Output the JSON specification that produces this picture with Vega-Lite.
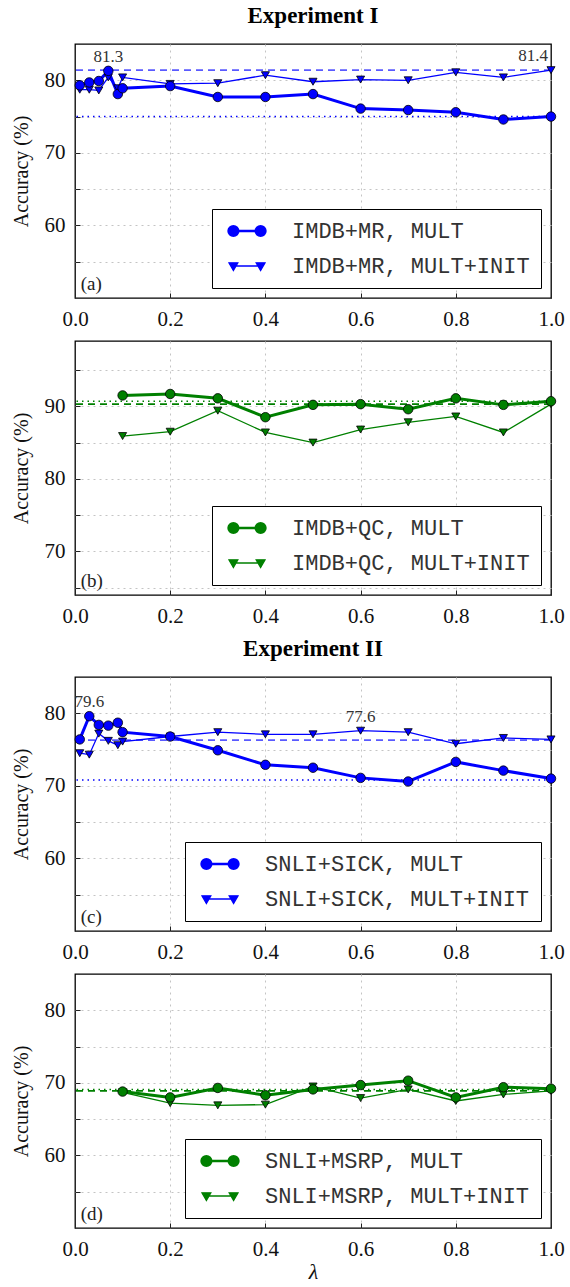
{
  "$schema": "https://vega.github.io/schema/vega-lite/v6.json",
  "padding": {"left": 10, "right": 20, "top": 4, "bottom": 3},
  "spacing": 10,
  "config": {
    "font": "Liberation Serif",
    "view": {"stroke": "black", "strokeWidth": 1.3},
    "axis": {"labelFont": "Liberation Serif", "labelFontSize": 21, "labelColor": "#111", "labelFlush": false, "ticks": true, "tickSize": -5, "tickColor": "#222", "tickWidth": 1, "domain": false, "grid": true, "gridDash": [2, 4], "gridColor": "#c4c4c4", "gridWidth": 1, "titleFont": "Liberation Serif", "titleFontWeight": "normal", "titleFontSize": 20, "titleColor": "#111", "labelPadding": 15},
    "axisX": {"gridOpacity": {"condition": {"test": "datum.value == 0 || datum.value == 1", "value": 0}, "value": 1}},
    "legend": {"title": null, "orient": "bottom-right", "offset": 10, "strokeColor": "black", "fillColor": "white", "padding": 11, "labelFont": "Liberation Mono", "labelFontSize": 22, "labelColor": "#333", "labelLimit": 400, "rowPadding": 13, "symbolSize": 64, "symbolOffset": 13, "labelOffset": 34},
    "title": {"font": "Liberation Serif", "fontSize": 23, "fontWeight": "bold", "color": "black", "anchor": "middle", "frame": "group", "offset": 16}
  },
  "resolve": {"scale": {"fill": "independent", "stroke": "independent", "shape": "independent", "strokeWidth": "independent", "y": "independent", "x": "independent"}, "legend": {"fill": "independent", "stroke": "independent", "shape": "independent", "strokeWidth": "independent"}},
  "datasets": {
    "acc": [
      {"panel": "a", "method": "MULT", "series": "IMDB+MR, MULT", "lambda": 0.01, "acc": 79.3},
      {"panel": "a", "method": "MULT", "series": "IMDB+MR, MULT", "lambda": 0.03, "acc": 79.7},
      {"panel": "a", "method": "MULT", "series": "IMDB+MR, MULT", "lambda": 0.05, "acc": 79.9},
      {"panel": "a", "method": "MULT", "series": "IMDB+MR, MULT", "lambda": 0.07, "acc": 81.3},
      {"panel": "a", "method": "MULT", "series": "IMDB+MR, MULT", "lambda": 0.09, "acc": 78.1},
      {"panel": "a", "method": "MULT", "series": "IMDB+MR, MULT", "lambda": 0.1, "acc": 78.9},
      {"panel": "a", "method": "MULT", "series": "IMDB+MR, MULT", "lambda": 0.2, "acc": 79.2},
      {"panel": "a", "method": "MULT", "series": "IMDB+MR, MULT", "lambda": 0.3, "acc": 77.7},
      {"panel": "a", "method": "MULT", "series": "IMDB+MR, MULT", "lambda": 0.4, "acc": 77.7},
      {"panel": "a", "method": "MULT", "series": "IMDB+MR, MULT", "lambda": 0.5, "acc": 78.1},
      {"panel": "a", "method": "MULT", "series": "IMDB+MR, MULT", "lambda": 0.6, "acc": 76.1},
      {"panel": "a", "method": "MULT", "series": "IMDB+MR, MULT", "lambda": 0.7, "acc": 75.9},
      {"panel": "a", "method": "MULT", "series": "IMDB+MR, MULT", "lambda": 0.8, "acc": 75.6},
      {"panel": "a", "method": "MULT", "series": "IMDB+MR, MULT", "lambda": 0.9, "acc": 74.6},
      {"panel": "a", "method": "MULT", "series": "IMDB+MR, MULT", "lambda": 1.0, "acc": 75.0},
      {"panel": "a", "method": "MULT+INIT", "series": "IMDB+MR, MULT+INIT", "lambda": 0.01, "acc": 78.7},
      {"panel": "a", "method": "MULT+INIT", "series": "IMDB+MR, MULT+INIT", "lambda": 0.03, "acc": 78.7},
      {"panel": "a", "method": "MULT+INIT", "series": "IMDB+MR, MULT+INIT", "lambda": 0.05, "acc": 78.6},
      {"panel": "a", "method": "MULT+INIT", "series": "IMDB+MR, MULT+INIT", "lambda": 0.07, "acc": 80.4},
      {"panel": "a", "method": "MULT+INIT", "series": "IMDB+MR, MULT+INIT", "lambda": 0.09, "acc": 78.9},
      {"panel": "a", "method": "MULT+INIT", "series": "IMDB+MR, MULT+INIT", "lambda": 0.1, "acc": 80.4},
      {"panel": "a", "method": "MULT+INIT", "series": "IMDB+MR, MULT+INIT", "lambda": 0.2, "acc": 79.5},
      {"panel": "a", "method": "MULT+INIT", "series": "IMDB+MR, MULT+INIT", "lambda": 0.3, "acc": 79.6},
      {"panel": "a", "method": "MULT+INIT", "series": "IMDB+MR, MULT+INIT", "lambda": 0.4, "acc": 80.7},
      {"panel": "a", "method": "MULT+INIT", "series": "IMDB+MR, MULT+INIT", "lambda": 0.5, "acc": 79.8},
      {"panel": "a", "method": "MULT+INIT", "series": "IMDB+MR, MULT+INIT", "lambda": 0.6, "acc": 80.1},
      {"panel": "a", "method": "MULT+INIT", "series": "IMDB+MR, MULT+INIT", "lambda": 0.7, "acc": 80.0},
      {"panel": "a", "method": "MULT+INIT", "series": "IMDB+MR, MULT+INIT", "lambda": 0.8, "acc": 81.1},
      {"panel": "a", "method": "MULT+INIT", "series": "IMDB+MR, MULT+INIT", "lambda": 0.9, "acc": 80.4},
      {"panel": "a", "method": "MULT+INIT", "series": "IMDB+MR, MULT+INIT", "lambda": 1.0, "acc": 81.4},
      {"panel": "b", "method": "MULT", "series": "IMDB+QC, MULT", "lambda": 0.1, "acc": 91.5},
      {"panel": "b", "method": "MULT", "series": "IMDB+QC, MULT", "lambda": 0.2, "acc": 91.7},
      {"panel": "b", "method": "MULT", "series": "IMDB+QC, MULT", "lambda": 0.3, "acc": 91.1},
      {"panel": "b", "method": "MULT", "series": "IMDB+QC, MULT", "lambda": 0.4, "acc": 88.5},
      {"panel": "b", "method": "MULT", "series": "IMDB+QC, MULT", "lambda": 0.5, "acc": 90.2},
      {"panel": "b", "method": "MULT", "series": "IMDB+QC, MULT", "lambda": 0.6, "acc": 90.3},
      {"panel": "b", "method": "MULT", "series": "IMDB+QC, MULT", "lambda": 0.7, "acc": 89.6},
      {"panel": "b", "method": "MULT", "series": "IMDB+QC, MULT", "lambda": 0.8, "acc": 91.1},
      {"panel": "b", "method": "MULT", "series": "IMDB+QC, MULT", "lambda": 0.9, "acc": 90.2},
      {"panel": "b", "method": "MULT", "series": "IMDB+QC, MULT", "lambda": 1.0, "acc": 90.7},
      {"panel": "b", "method": "MULT+INIT", "series": "IMDB+QC, MULT+INIT", "lambda": 0.1, "acc": 85.9},
      {"panel": "b", "method": "MULT+INIT", "series": "IMDB+QC, MULT+INIT", "lambda": 0.2, "acc": 86.5},
      {"panel": "b", "method": "MULT+INIT", "series": "IMDB+QC, MULT+INIT", "lambda": 0.3, "acc": 89.4},
      {"panel": "b", "method": "MULT+INIT", "series": "IMDB+QC, MULT+INIT", "lambda": 0.4, "acc": 86.4},
      {"panel": "b", "method": "MULT+INIT", "series": "IMDB+QC, MULT+INIT", "lambda": 0.5, "acc": 85.0},
      {"panel": "b", "method": "MULT+INIT", "series": "IMDB+QC, MULT+INIT", "lambda": 0.6, "acc": 86.8},
      {"panel": "b", "method": "MULT+INIT", "series": "IMDB+QC, MULT+INIT", "lambda": 0.7, "acc": 87.8},
      {"panel": "b", "method": "MULT+INIT", "series": "IMDB+QC, MULT+INIT", "lambda": 0.8, "acc": 88.6},
      {"panel": "b", "method": "MULT+INIT", "series": "IMDB+QC, MULT+INIT", "lambda": 0.9, "acc": 86.4},
      {"panel": "b", "method": "MULT+INIT", "series": "IMDB+QC, MULT+INIT", "lambda": 1.0, "acc": 90.3},
      {"panel": "c", "method": "MULT", "series": "SNLI+SICK, MULT", "lambda": 0.01, "acc": 76.4},
      {"panel": "c", "method": "MULT", "series": "SNLI+SICK, MULT", "lambda": 0.03, "acc": 79.6},
      {"panel": "c", "method": "MULT", "series": "SNLI+SICK, MULT", "lambda": 0.05, "acc": 78.4},
      {"panel": "c", "method": "MULT", "series": "SNLI+SICK, MULT", "lambda": 0.07, "acc": 78.3},
      {"panel": "c", "method": "MULT", "series": "SNLI+SICK, MULT", "lambda": 0.09, "acc": 78.7},
      {"panel": "c", "method": "MULT", "series": "SNLI+SICK, MULT", "lambda": 0.1, "acc": 77.4},
      {"panel": "c", "method": "MULT", "series": "SNLI+SICK, MULT", "lambda": 0.2, "acc": 76.8},
      {"panel": "c", "method": "MULT", "series": "SNLI+SICK, MULT", "lambda": 0.3, "acc": 74.9},
      {"panel": "c", "method": "MULT", "series": "SNLI+SICK, MULT", "lambda": 0.4, "acc": 72.9},
      {"panel": "c", "method": "MULT", "series": "SNLI+SICK, MULT", "lambda": 0.5, "acc": 72.5},
      {"panel": "c", "method": "MULT", "series": "SNLI+SICK, MULT", "lambda": 0.6, "acc": 71.1},
      {"panel": "c", "method": "MULT", "series": "SNLI+SICK, MULT", "lambda": 0.7, "acc": 70.6},
      {"panel": "c", "method": "MULT", "series": "SNLI+SICK, MULT", "lambda": 0.8, "acc": 73.3},
      {"panel": "c", "method": "MULT", "series": "SNLI+SICK, MULT", "lambda": 0.9, "acc": 72.1},
      {"panel": "c", "method": "MULT", "series": "SNLI+SICK, MULT", "lambda": 1.0, "acc": 71.0},
      {"panel": "c", "method": "MULT+INIT", "series": "SNLI+SICK, MULT+INIT", "lambda": 0.01, "acc": 74.5},
      {"panel": "c", "method": "MULT+INIT", "series": "SNLI+SICK, MULT+INIT", "lambda": 0.03, "acc": 74.3},
      {"panel": "c", "method": "MULT+INIT", "series": "SNLI+SICK, MULT+INIT", "lambda": 0.05, "acc": 77.2},
      {"panel": "c", "method": "MULT+INIT", "series": "SNLI+SICK, MULT+INIT", "lambda": 0.07, "acc": 76.2},
      {"panel": "c", "method": "MULT+INIT", "series": "SNLI+SICK, MULT+INIT", "lambda": 0.09, "acc": 75.6},
      {"panel": "c", "method": "MULT+INIT", "series": "SNLI+SICK, MULT+INIT", "lambda": 0.1, "acc": 76.1},
      {"panel": "c", "method": "MULT+INIT", "series": "SNLI+SICK, MULT+INIT", "lambda": 0.2, "acc": 76.8},
      {"panel": "c", "method": "MULT+INIT", "series": "SNLI+SICK, MULT+INIT", "lambda": 0.3, "acc": 77.4},
      {"panel": "c", "method": "MULT+INIT", "series": "SNLI+SICK, MULT+INIT", "lambda": 0.4, "acc": 77.1},
      {"panel": "c", "method": "MULT+INIT", "series": "SNLI+SICK, MULT+INIT", "lambda": 0.5, "acc": 77.1},
      {"panel": "c", "method": "MULT+INIT", "series": "SNLI+SICK, MULT+INIT", "lambda": 0.6, "acc": 77.6},
      {"panel": "c", "method": "MULT+INIT", "series": "SNLI+SICK, MULT+INIT", "lambda": 0.7, "acc": 77.4},
      {"panel": "c", "method": "MULT+INIT", "series": "SNLI+SICK, MULT+INIT", "lambda": 0.8, "acc": 75.8},
      {"panel": "c", "method": "MULT+INIT", "series": "SNLI+SICK, MULT+INIT", "lambda": 0.9, "acc": 76.6},
      {"panel": "c", "method": "MULT+INIT", "series": "SNLI+SICK, MULT+INIT", "lambda": 1.0, "acc": 76.4},
      {"panel": "d", "method": "MULT", "series": "SNLI+MSRP, MULT", "lambda": 0.1, "acc": 68.8},
      {"panel": "d", "method": "MULT", "series": "SNLI+MSRP, MULT", "lambda": 0.2, "acc": 68.0},
      {"panel": "d", "method": "MULT", "series": "SNLI+MSRP, MULT", "lambda": 0.3, "acc": 69.3},
      {"panel": "d", "method": "MULT", "series": "SNLI+MSRP, MULT", "lambda": 0.4, "acc": 68.3},
      {"panel": "d", "method": "MULT", "series": "SNLI+MSRP, MULT", "lambda": 0.5, "acc": 69.1},
      {"panel": "d", "method": "MULT", "series": "SNLI+MSRP, MULT", "lambda": 0.6, "acc": 69.7},
      {"panel": "d", "method": "MULT", "series": "SNLI+MSRP, MULT", "lambda": 0.7, "acc": 70.3},
      {"panel": "d", "method": "MULT", "series": "SNLI+MSRP, MULT", "lambda": 0.8, "acc": 68.0},
      {"panel": "d", "method": "MULT", "series": "SNLI+MSRP, MULT", "lambda": 0.9, "acc": 69.4},
      {"panel": "d", "method": "MULT", "series": "SNLI+MSRP, MULT", "lambda": 1.0, "acc": 69.2},
      {"panel": "d", "method": "MULT+INIT", "series": "SNLI+MSRP, MULT+INIT", "lambda": 0.1, "acc": 68.7},
      {"panel": "d", "method": "MULT+INIT", "series": "SNLI+MSRP, MULT+INIT", "lambda": 0.2, "acc": 67.2},
      {"panel": "d", "method": "MULT+INIT", "series": "SNLI+MSRP, MULT+INIT", "lambda": 0.3, "acc": 66.9},
      {"panel": "d", "method": "MULT+INIT", "series": "SNLI+MSRP, MULT+INIT", "lambda": 0.4, "acc": 67.0},
      {"panel": "d", "method": "MULT+INIT", "series": "SNLI+MSRP, MULT+INIT", "lambda": 0.5, "acc": 69.5},
      {"panel": "d", "method": "MULT+INIT", "series": "SNLI+MSRP, MULT+INIT", "lambda": 0.6, "acc": 67.9},
      {"panel": "d", "method": "MULT+INIT", "series": "SNLI+MSRP, MULT+INIT", "lambda": 0.7, "acc": 69.1},
      {"panel": "d", "method": "MULT+INIT", "series": "SNLI+MSRP, MULT+INIT", "lambda": 0.8, "acc": 67.5},
      {"panel": "d", "method": "MULT+INIT", "series": "SNLI+MSRP, MULT+INIT", "lambda": 0.9, "acc": 68.4},
      {"panel": "d", "method": "MULT+INIT", "series": "SNLI+MSRP, MULT+INIT", "lambda": 1.0, "acc": 68.9}
    ],
    "refs": [
      {"panel": "a", "ref": "r1", "acc": 81.4},
      {"panel": "a", "ref": "r2", "acc": 75.0},
      {"panel": "b", "ref": "r1", "acc": 90.3},
      {"panel": "b", "ref": "r2", "acc": 90.7},
      {"panel": "c", "ref": "r1", "acc": 76.3},
      {"panel": "c", "ref": "r2", "acc": 70.8},
      {"panel": "d", "ref": "r1", "acc": 68.9},
      {"panel": "d", "ref": "r2", "acc": 69.1}
    ],
    "notes": [
      {"panel": "a", "side": "mid", "lambda": 0.07, "acc": 81.3, "text": "81.3"},
      {"panel": "a", "side": "end", "lambda": 1.0, "acc": 81.4, "text": "81.4"},
      {"panel": "c", "side": "mid", "lambda": 0.03, "acc": 79.6, "text": "79.6"},
      {"panel": "c", "side": "mid", "lambda": 0.6, "acc": 77.6, "text": "77.6"}
    ]
  },
  "vconcat": [
    {
      "width": 476, "height": 254,
      "title": {"text": "Experiment I"},
      "layer": [
        {"data": {"name": "refs"}, "transform": [{"filter": "datum.panel == 'a' && datum.ref == 'r1'"}], "mark": {"type": "rule", "color": "#5a5aff", "strokeWidth": 1.6, "strokeDash": [7, 5]}, "encoding": {"y": {"field": "acc", "type": "quantitative", "scale": {"domain": [50, 85], "nice": false, "zero": false}}}},
        {"data": {"name": "refs"}, "transform": [{"filter": "datum.panel == 'a' && datum.ref == 'r2'"}], "mark": {"type": "rule", "color": "#0000ff", "strokeWidth": 1.5, "strokeDash": [1.5, 4]}, "encoding": {"y": {"field": "acc", "type": "quantitative"}}},
        {"data": {"name": "acc"}, "transform": [{"filter": "datum.panel == 'a' && datum.method == 'MULT'"}], "mark": {"type": "line", "color": "#0000ff", "strokeWidth": 3}, "encoding": {
          "x": {"field": "lambda", "type": "quantitative", "scale": {"domain": [0, 1], "nice": false}, "axis": {"title": null, "values": [0, 0.2, 0.4, 0.6, 0.8, 1.0], "format": ".1f"}},
          "y": {"field": "acc", "type": "quantitative", "axis": {"title": "Accuracy (%)", "titlePadding": 13, "values": [55, 60, 65, 70, 75, 80], "labelExpr": "datum.value % 10 == 0 ? datum.label : ''"}}}},
        {"data": {"name": "acc"}, "transform": [{"filter": "datum.panel == 'a' && datum.method == 'MULT+INIT'"}], "mark": {"type": "line", "color": "#0000ff", "strokeWidth": 1.3}, "encoding": {"x": {"field": "lambda", "type": "quantitative"}, "y": {"field": "acc", "type": "quantitative"}}},
        {"data": {"name": "acc"}, "transform": [{"filter": "datum.panel == 'a' && datum.method == 'MULT+INIT'"}], "mark": {"type": "point", "shape": "triangle-down", "filled": true, "color": "#0000ff", "stroke": "black", "strokeWidth": 0.8, "size": 65, "opacity": 1}, "encoding": {"x": {"field": "lambda", "type": "quantitative"}, "y": {"field": "acc", "type": "quantitative"}}},
        {"data": {"name": "acc"}, "transform": [{"filter": "datum.panel == 'a' && datum.method == 'MULT'"}], "mark": {"type": "point", "shape": "circle", "filled": true, "color": "#0000ff", "stroke": "black", "strokeWidth": 0.8, "size": 90, "opacity": 1}, "encoding": {"x": {"field": "lambda", "type": "quantitative"}, "y": {"field": "acc", "type": "quantitative"}}},
        {"data": {"name": "acc"}, "transform": [{"filter": "datum.panel == 'a' && datum.lambda < 0"}], "mark": {"type": "point", "size": 64, "opacity": 1}, "encoding": {
          "x": {"field": "lambda", "type": "quantitative"}, "y": {"field": "acc", "type": "quantitative"},
          "fill": {"field": "series", "type": "nominal", "scale": {"domain": ["IMDB+MR, MULT", "IMDB+MR, MULT+INIT"], "range": ["#0000ff", "#0000ff"]}},
          "stroke": {"field": "series", "type": "nominal", "scale": {"domain": ["IMDB+MR, MULT", "IMDB+MR, MULT+INIT"], "range": ["#0000ff", "#0000ff"]}},
          "shape": {"field": "series", "type": "nominal", "scale": {"domain": ["IMDB+MR, MULT", "IMDB+MR, MULT+INIT"], "range": ["M-3.4,0L3.4,0M-4.6,0A1.2,1.2,0,1,0,-2.2,0A1.2,1.2,0,1,0,-4.6,0ZM2.2,0A1.2,1.2,0,1,0,4.6,0A1.2,1.2,0,1,0,2.2,0Z", "M-3.4,0L3.4,0M-4.5,-0.8L-2.3,-0.8L-3.4,1.1ZM2.3,-0.8L4.5,-0.8L3.4,1.1Z"]}},
          "strokeWidth": {"field": "series", "type": "nominal", "scale": {"type": "ordinal", "domain": ["IMDB+MR, MULT", "IMDB+MR, MULT+INIT"], "range": [2.6, 1.3]}}}},
        {"data": {"name": "notes"}, "transform": [{"filter": "datum.panel == 'a' && datum.side == 'mid'"}], "mark": {"type": "text", "dy": -14, "fontSize": 17, "color": "#333"}, "encoding": {"x": {"field": "lambda", "type": "quantitative"}, "y": {"field": "acc", "type": "quantitative"}, "text": {"field": "text"}}},
        {"data": {"name": "notes"}, "transform": [{"filter": "datum.panel == 'a' && datum.side == 'end'"}], "mark": {"type": "text", "dy": -14, "dx": -3, "align": "right", "fontSize": 17, "color": "#333"}, "encoding": {"x": {"field": "lambda", "type": "quantitative"}, "y": {"field": "acc", "type": "quantitative"}, "text": {"field": "text"}}},
        {"data": {"values": [{"tag": "(a)"}]}, "mark": {"type": "text", "align": "left", "baseline": "bottom", "fontSize": 19, "color": "#222"}, "encoding": {"x": {"datum": 0.012}, "y": {"datum": 50.6}, "text": {"field": "tag"}}}
      ]
    },
    {
      "width": 476, "height": 254,
      "layer": [
        {"data": {"name": "refs"}, "transform": [{"filter": "datum.panel == 'b' && datum.ref == 'r1'"}], "mark": {"type": "rule", "color": "#008000", "strokeWidth": 1.6, "strokeDash": [7, 5]}, "encoding": {"y": {"field": "acc", "type": "quantitative", "scale": {"domain": [64, 99], "nice": false, "zero": false}}}},
        {"data": {"name": "refs"}, "transform": [{"filter": "datum.panel == 'b' && datum.ref == 'r2'"}], "mark": {"type": "rule", "color": "#008000", "strokeWidth": 1.5, "strokeDash": [1.5, 4]}, "encoding": {"y": {"field": "acc", "type": "quantitative"}}},
        {"data": {"name": "acc"}, "transform": [{"filter": "datum.panel == 'b' && datum.method == 'MULT'"}], "mark": {"type": "line", "color": "#008000", "strokeWidth": 3}, "encoding": {
          "x": {"field": "lambda", "type": "quantitative", "scale": {"domain": [0, 1], "nice": false}, "axis": {"title": null, "values": [0, 0.2, 0.4, 0.6, 0.8, 1.0], "format": ".1f"}},
          "y": {"field": "acc", "type": "quantitative", "axis": {"title": "Accuracy (%)", "titlePadding": 13, "values": [65, 70, 75, 80, 85, 90, 95], "labelExpr": "datum.value % 10 == 0 ? datum.label : ''"}}}},
        {"data": {"name": "acc"}, "transform": [{"filter": "datum.panel == 'b' && datum.method == 'MULT+INIT'"}], "mark": {"type": "line", "color": "#008000", "strokeWidth": 1.3}, "encoding": {"x": {"field": "lambda", "type": "quantitative"}, "y": {"field": "acc", "type": "quantitative"}}},
        {"data": {"name": "acc"}, "transform": [{"filter": "datum.panel == 'b' && datum.method == 'MULT+INIT'"}], "mark": {"type": "point", "shape": "triangle-down", "filled": true, "color": "#008000", "stroke": "black", "strokeWidth": 0.8, "size": 65, "opacity": 1}, "encoding": {"x": {"field": "lambda", "type": "quantitative"}, "y": {"field": "acc", "type": "quantitative"}}},
        {"data": {"name": "acc"}, "transform": [{"filter": "datum.panel == 'b' && datum.method == 'MULT'"}], "mark": {"type": "point", "shape": "circle", "filled": true, "color": "#008000", "stroke": "black", "strokeWidth": 0.8, "size": 90, "opacity": 1}, "encoding": {"x": {"field": "lambda", "type": "quantitative"}, "y": {"field": "acc", "type": "quantitative"}}},
        {"data": {"name": "acc"}, "transform": [{"filter": "datum.panel == 'b' && datum.lambda < 0"}], "mark": {"type": "point", "size": 64, "opacity": 1}, "encoding": {
          "x": {"field": "lambda", "type": "quantitative"}, "y": {"field": "acc", "type": "quantitative"},
          "fill": {"field": "series", "type": "nominal", "scale": {"domain": ["IMDB+QC, MULT", "IMDB+QC, MULT+INIT"], "range": ["#008000", "#008000"]}},
          "stroke": {"field": "series", "type": "nominal", "scale": {"domain": ["IMDB+QC, MULT", "IMDB+QC, MULT+INIT"], "range": ["#008000", "#008000"]}},
          "shape": {"field": "series", "type": "nominal", "scale": {"domain": ["IMDB+QC, MULT", "IMDB+QC, MULT+INIT"], "range": ["M-3.4,0L3.4,0M-4.6,0A1.2,1.2,0,1,0,-2.2,0A1.2,1.2,0,1,0,-4.6,0ZM2.2,0A1.2,1.2,0,1,0,4.6,0A1.2,1.2,0,1,0,2.2,0Z", "M-3.4,0L3.4,0M-4.5,-0.8L-2.3,-0.8L-3.4,1.1ZM2.3,-0.8L4.5,-0.8L3.4,1.1Z"]}},
          "strokeWidth": {"field": "series", "type": "nominal", "scale": {"type": "ordinal", "domain": ["IMDB+QC, MULT", "IMDB+QC, MULT+INIT"], "range": [2.6, 1.3]}}}},
        {"data": {"values": [{"tag": "(b)"}]}, "mark": {"type": "text", "align": "left", "baseline": "bottom", "fontSize": 19, "color": "#222"}, "encoding": {"x": {"datum": 0.012}, "y": {"datum": 64.6}, "text": {"field": "tag"}}}
      ]
    },
    {
      "width": 476, "height": 254,
      "title": {"text": "Experiment II"},
      "layer": [
        {"data": {"name": "refs"}, "transform": [{"filter": "datum.panel == 'c' && datum.ref == 'r1'"}], "mark": {"type": "rule", "color": "#5a5aff", "strokeWidth": 1.6, "strokeDash": [7, 5]}, "encoding": {"y": {"field": "acc", "type": "quantitative", "scale": {"domain": [50, 85], "nice": false, "zero": false}}}},
        {"data": {"name": "refs"}, "transform": [{"filter": "datum.panel == 'c' && datum.ref == 'r2'"}], "mark": {"type": "rule", "color": "#0000ff", "strokeWidth": 1.5, "strokeDash": [1.5, 4]}, "encoding": {"y": {"field": "acc", "type": "quantitative"}}},
        {"data": {"name": "acc"}, "transform": [{"filter": "datum.panel == 'c' && datum.method == 'MULT'"}], "mark": {"type": "line", "color": "#0000ff", "strokeWidth": 3}, "encoding": {
          "x": {"field": "lambda", "type": "quantitative", "scale": {"domain": [0, 1], "nice": false}, "axis": {"title": null, "values": [0, 0.2, 0.4, 0.6, 0.8, 1.0], "format": ".1f"}},
          "y": {"field": "acc", "type": "quantitative", "axis": {"title": "Accuracy (%)", "titlePadding": 13, "values": [55, 60, 65, 70, 75, 80], "labelExpr": "datum.value % 10 == 0 ? datum.label : ''"}}}},
        {"data": {"name": "acc"}, "transform": [{"filter": "datum.panel == 'c' && datum.method == 'MULT+INIT'"}], "mark": {"type": "line", "color": "#0000ff", "strokeWidth": 1.3}, "encoding": {"x": {"field": "lambda", "type": "quantitative"}, "y": {"field": "acc", "type": "quantitative"}}},
        {"data": {"name": "acc"}, "transform": [{"filter": "datum.panel == 'c' && datum.method == 'MULT+INIT'"}], "mark": {"type": "point", "shape": "triangle-down", "filled": true, "color": "#0000ff", "stroke": "black", "strokeWidth": 0.8, "size": 65, "opacity": 1}, "encoding": {"x": {"field": "lambda", "type": "quantitative"}, "y": {"field": "acc", "type": "quantitative"}}},
        {"data": {"name": "acc"}, "transform": [{"filter": "datum.panel == 'c' && datum.method == 'MULT'"}], "mark": {"type": "point", "shape": "circle", "filled": true, "color": "#0000ff", "stroke": "black", "strokeWidth": 0.8, "size": 90, "opacity": 1}, "encoding": {"x": {"field": "lambda", "type": "quantitative"}, "y": {"field": "acc", "type": "quantitative"}}},
        {"data": {"name": "acc"}, "transform": [{"filter": "datum.panel == 'c' && datum.lambda < 0"}], "mark": {"type": "point", "size": 64, "opacity": 1}, "encoding": {
          "x": {"field": "lambda", "type": "quantitative"}, "y": {"field": "acc", "type": "quantitative"},
          "fill": {"field": "series", "type": "nominal", "scale": {"domain": ["SNLI+SICK, MULT", "SNLI+SICK, MULT+INIT"], "range": ["#0000ff", "#0000ff"]}},
          "stroke": {"field": "series", "type": "nominal", "scale": {"domain": ["SNLI+SICK, MULT", "SNLI+SICK, MULT+INIT"], "range": ["#0000ff", "#0000ff"]}},
          "shape": {"field": "series", "type": "nominal", "scale": {"domain": ["SNLI+SICK, MULT", "SNLI+SICK, MULT+INIT"], "range": ["M-3.4,0L3.4,0M-4.6,0A1.2,1.2,0,1,0,-2.2,0A1.2,1.2,0,1,0,-4.6,0ZM2.2,0A1.2,1.2,0,1,0,4.6,0A1.2,1.2,0,1,0,2.2,0Z", "M-3.4,0L3.4,0M-4.5,-0.8L-2.3,-0.8L-3.4,1.1ZM2.3,-0.8L4.5,-0.8L3.4,1.1Z"]}},
          "strokeWidth": {"field": "series", "type": "nominal", "scale": {"type": "ordinal", "domain": ["SNLI+SICK, MULT", "SNLI+SICK, MULT+INIT"], "range": [2.6, 1.3]}}}},
        {"data": {"name": "notes"}, "transform": [{"filter": "datum.panel == 'c'"}], "mark": {"type": "text", "dy": -14, "fontSize": 17, "color": "#333"}, "encoding": {"x": {"field": "lambda", "type": "quantitative"}, "y": {"field": "acc", "type": "quantitative"}, "text": {"field": "text"}}},
        {"data": {"values": [{"tag": "(c)"}]}, "mark": {"type": "text", "align": "left", "baseline": "bottom", "fontSize": 19, "color": "#222"}, "encoding": {"x": {"datum": 0.012}, "y": {"datum": 50.6}, "text": {"field": "tag"}}}
      ]
    },
    {
      "width": 476, "height": 254,
      "layer": [
        {"data": {"name": "refs"}, "transform": [{"filter": "datum.panel == 'd' && datum.ref == 'r1'"}], "mark": {"type": "rule", "color": "#008000", "strokeWidth": 1.6, "strokeDash": [7, 5]}, "encoding": {"y": {"field": "acc", "type": "quantitative", "scale": {"domain": [50, 85], "nice": false, "zero": false}}}},
        {"data": {"name": "refs"}, "transform": [{"filter": "datum.panel == 'd' && datum.ref == 'r2'"}], "mark": {"type": "rule", "color": "#008000", "strokeWidth": 1.5, "strokeDash": [1.5, 4]}, "encoding": {"y": {"field": "acc", "type": "quantitative"}}},
        {"data": {"name": "acc"}, "transform": [{"filter": "datum.panel == 'd' && datum.method == 'MULT'"}], "mark": {"type": "line", "color": "#008000", "strokeWidth": 3}, "encoding": {
          "x": {"field": "lambda", "type": "quantitative", "scale": {"domain": [0, 1], "nice": false}, "axis": {"title": "λ", "titleFontStyle": "italic", "titleFontSize": 22, "titlePadding": 2, "values": [0, 0.2, 0.4, 0.6, 0.8, 1.0], "format": ".1f"}},
          "y": {"field": "acc", "type": "quantitative", "axis": {"title": "Accuracy (%)", "titlePadding": 13, "values": [55, 60, 65, 70, 75, 80], "labelExpr": "datum.value % 10 == 0 ? datum.label : ''"}}}},
        {"data": {"name": "acc"}, "transform": [{"filter": "datum.panel == 'd' && datum.method == 'MULT+INIT'"}], "mark": {"type": "line", "color": "#008000", "strokeWidth": 1.3}, "encoding": {"x": {"field": "lambda", "type": "quantitative"}, "y": {"field": "acc", "type": "quantitative"}}},
        {"data": {"name": "acc"}, "transform": [{"filter": "datum.panel == 'd' && datum.method == 'MULT+INIT'"}], "mark": {"type": "point", "shape": "triangle-down", "filled": true, "color": "#008000", "stroke": "black", "strokeWidth": 0.8, "size": 65, "opacity": 1}, "encoding": {"x": {"field": "lambda", "type": "quantitative"}, "y": {"field": "acc", "type": "quantitative"}}},
        {"data": {"name": "acc"}, "transform": [{"filter": "datum.panel == 'd' && datum.method == 'MULT'"}], "mark": {"type": "point", "shape": "circle", "filled": true, "color": "#008000", "stroke": "black", "strokeWidth": 0.8, "size": 90, "opacity": 1}, "encoding": {"x": {"field": "lambda", "type": "quantitative"}, "y": {"field": "acc", "type": "quantitative"}}},
        {"data": {"name": "acc"}, "transform": [{"filter": "datum.panel == 'd' && datum.lambda < 0"}], "mark": {"type": "point", "size": 64, "opacity": 1}, "encoding": {
          "x": {"field": "lambda", "type": "quantitative"}, "y": {"field": "acc", "type": "quantitative"},
          "fill": {"field": "series", "type": "nominal", "scale": {"domain": ["SNLI+MSRP, MULT", "SNLI+MSRP, MULT+INIT"], "range": ["#008000", "#008000"]}},
          "stroke": {"field": "series", "type": "nominal", "scale": {"domain": ["SNLI+MSRP, MULT", "SNLI+MSRP, MULT+INIT"], "range": ["#008000", "#008000"]}},
          "shape": {"field": "series", "type": "nominal", "scale": {"domain": ["SNLI+MSRP, MULT", "SNLI+MSRP, MULT+INIT"], "range": ["M-3.4,0L3.4,0M-4.6,0A1.2,1.2,0,1,0,-2.2,0A1.2,1.2,0,1,0,-4.6,0ZM2.2,0A1.2,1.2,0,1,0,4.6,0A1.2,1.2,0,1,0,2.2,0Z", "M-3.4,0L3.4,0M-4.5,-0.8L-2.3,-0.8L-3.4,1.1ZM2.3,-0.8L4.5,-0.8L3.4,1.1Z"]}},
          "strokeWidth": {"field": "series", "type": "nominal", "scale": {"type": "ordinal", "domain": ["SNLI+MSRP, MULT", "SNLI+MSRP, MULT+INIT"], "range": [2.6, 1.3]}}}},
        {"data": {"values": [{"tag": "(d)"}]}, "mark": {"type": "text", "align": "left", "baseline": "bottom", "fontSize": 19, "color": "#222"}, "encoding": {"x": {"datum": 0.012}, "y": {"datum": 50.6}, "text": {"field": "tag"}}}
      ]
    }
  ]
}
